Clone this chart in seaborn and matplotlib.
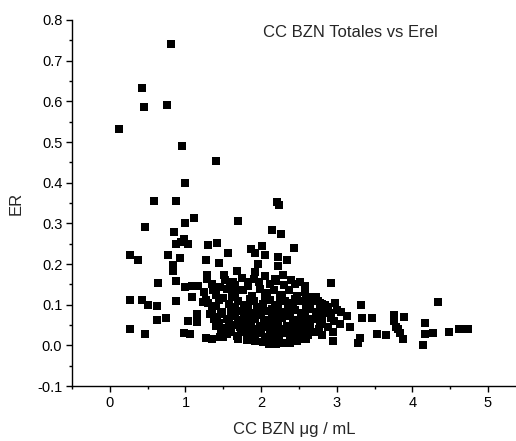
import matplotlib
matplotlib.use("Agg")
import matplotlib.pyplot as plt
from matplotlib.ticker import MultipleLocator, FormatStrFormatter
import seaborn as sns
import pandas as pd

# ---- data ----
cc_sparse = [0.81, 0.42, 0.45, 0.75, 0.115, 0.95, 1.40, 1.00, 0.59, 0.87, 2.21, 2.24,
             1.11, 0.47, 0.99, 1.69, 0.855, 2.14, 2.26,
             0.87, 0.98, 1.04, 0.94, 1.30, 1.42, 1.56, 1.87, 1.92, 2.01, 2.43,
             0.265, 0.366, 0.77, 0.93, 0.84, 0.84, 1.265, 1.44, 1.68, 1.51, 1.28, 1.28,
             2.05, 2.22, 2.34, 1.96, 2.22, 1.92, 2.29, 2.18, 2.40, 2.51, 2.93,
             0.64, 0.87, 0.99, 1.08, 1.17, 1.08, 1.37, 1.46, 1.59, 1.63, 1.83, 1.83, 1.90,
             0.265, 0.42, 0.51, 0.62, 0.87, 1.27, 1.15, 1.15, 1.04, 0.62, 0.74, 1.32, 1.38, 1.23,
             0.265, 0.46, 0.98, 1.06, 1.265, 1.35, 1.46, 1.49, 1.81,
             2.725, 4.335, 3.32, 2.62, 2.80, 3.00, 3.14, 3.33, 3.46, 3.76, 3.89, 3.76, 4.167,
             3.18, 3.04, 2.80, 3.79, 3.81, 3.53, 3.65, 3.84, 3.87, 4.167, 4.27, 4.48, 4.62,
             4.69, 4.74, 4.145, 3.31, 3.28, 2.95, 2.80, 2.60, 2.38, 2.12, 2.10, 2.95, 2.96,
             2.70, 2.78, 2.88, 2.90]
er_sparse = [0.740, 0.632, 0.586, 0.591, 0.532, 0.489, 0.453, 0.399, 0.354, 0.355, 0.352, 0.346,
             0.314, 0.292, 0.300, 0.305, 0.278, 0.284, 0.273,
             0.250, 0.262, 0.250, 0.254, 0.246, 0.251, 0.228, 0.237, 0.227, 0.244, 0.239,
             0.223, 0.211, 0.221, 0.215, 0.197, 0.183, 0.209, 0.202, 0.183, 0.174, 0.172, 0.163,
             0.221, 0.217, 0.211, 0.201, 0.194, 0.180, 0.174, 0.164, 0.160, 0.156, 0.153,
             0.153, 0.158, 0.143, 0.147, 0.147, 0.120, 0.135, 0.143, 0.142, 0.156, 0.156, 0.145, 0.164,
             0.111, 0.111, 0.100, 0.096, 0.109, 0.111, 0.078, 0.057, 0.059, 0.063, 0.067, 0.078, 0.065, 0.106,
             0.039, 0.027, 0.030, 0.029, 0.019, 0.016, 0.020, 0.020, 0.012,
             0.119, 0.107, 0.099, 0.094, 0.102, 0.086, 0.072, 0.066, 0.067, 0.074, 0.070, 0.061, 0.056,
             0.045, 0.053, 0.052, 0.045, 0.039, 0.029, 0.026, 0.030, 0.015, 0.029, 0.030, 0.034, 0.040,
             0.040, 0.040, 0.001, 0.019, 0.006, 0.011, 0.025, 0.016, 0.006, 0.004, 0.004, 0.033, 0.060,
             0.112, 0.105, 0.095, 0.080]

cc_cluster = [1.35, 1.52, 1.66, 1.75, 1.97, 2.05, 2.12, 2.20, 2.30, 2.45, 2.58,
              1.24, 1.40, 1.55, 1.65, 1.76, 1.88, 1.98, 2.08, 2.17, 2.27, 2.37, 2.47, 2.58, 2.66,
              1.30, 1.45, 1.57, 1.70, 1.80, 1.90, 2.02, 2.12, 2.22, 2.32, 2.42, 2.52, 2.64, 2.75, 2.85, 2.98,
              1.35, 1.48, 1.60, 1.70, 1.78, 1.87, 1.95, 2.05, 2.15, 2.25, 2.35, 2.45, 2.55, 2.65, 2.72, 2.85, 3.05,
              1.42, 1.55, 1.65, 1.74, 1.83, 1.92, 2.00, 2.10, 2.18, 2.28, 2.38, 2.48, 2.58, 2.68, 2.80, 2.92,
              1.40, 1.52, 1.62, 1.72, 1.82, 1.90, 1.98, 2.08, 2.16, 2.26, 2.34, 2.44, 2.54, 2.65, 2.76, 2.88,
              1.55, 1.68, 1.78, 1.88, 1.96, 2.05, 2.14, 2.24, 2.32, 2.42, 2.52, 2.62, 2.72,
              1.92, 2.02, 2.18, 2.28, 2.48, 2.20,
              1.50, 1.62, 1.85, 2.05, 2.25, 2.45, 2.60,
              1.40, 1.65, 1.83, 2.00, 2.18, 2.40, 2.60, 2.78,
              1.47, 1.60, 1.78, 1.96, 2.14, 2.33, 2.53, 2.75,
              1.45, 1.58, 1.69, 1.86, 2.04, 2.22, 2.42, 2.62, 2.78,
              1.47, 1.60, 1.73, 1.85, 2.00, 2.12, 2.20, 2.38, 2.48, 2.60,
              1.70, 1.85, 2.12, 2.38, 2.55]
er_cluster = [0.152, 0.160, 0.148, 0.166, 0.155, 0.170, 0.150, 0.158, 0.148, 0.152, 0.145,
              0.132, 0.125, 0.138, 0.128, 0.135, 0.122, 0.138, 0.128, 0.135, 0.124, 0.136, 0.122, 0.130, 0.120,
              0.104, 0.112, 0.102, 0.110, 0.100, 0.108, 0.102, 0.112, 0.100, 0.108, 0.103, 0.110, 0.100, 0.108, 0.100, 0.104,
              0.088, 0.082, 0.092, 0.084, 0.090, 0.080, 0.092, 0.085, 0.090, 0.082, 0.092, 0.086, 0.080, 0.090, 0.082, 0.086, 0.082,
              0.070, 0.064, 0.072, 0.062, 0.070, 0.065, 0.074, 0.062, 0.070, 0.066, 0.072, 0.062, 0.070, 0.064, 0.072, 0.066,
              0.048, 0.042, 0.050, 0.044, 0.052, 0.040, 0.048, 0.044, 0.052, 0.040, 0.048, 0.042, 0.050, 0.044, 0.040, 0.046,
              0.028, 0.024, 0.032, 0.022, 0.030, 0.020, 0.028, 0.022, 0.030, 0.020, 0.030, 0.026, 0.034,
              0.010, 0.008, 0.012, 0.006, 0.010, 0.003,
              0.116, 0.118, 0.115, 0.120, 0.116, 0.114, 0.112,
              0.096, 0.094, 0.097, 0.095, 0.096, 0.095, 0.094, 0.092,
              0.076, 0.077, 0.078, 0.076, 0.079, 0.077, 0.076, 0.075,
              0.056, 0.055, 0.057, 0.058, 0.056, 0.057, 0.056, 0.055, 0.054,
              0.036, 0.034, 0.037, 0.035, 0.036, 0.038, 0.035, 0.036, 0.034, 0.035,
              0.016, 0.014, 0.017, 0.015, 0.016]

title_text = "CC BZN Totales vs Erel"
x_label = "CC BZN \u03bcg / mL"
y_label = "ER"

df = pd.DataFrame({"cc": cc_sparse + cc_cluster, "er": er_sparse + er_cluster})

# ---- style ----
sns.set_style("ticks")
plt.rcParams["font.family"] = ["Liberation Sans", "DejaVu Sans"]

fig = plt.figure(figsize=(5.16, 4.41), dpi=100)
ax = fig.add_axes([72 / 516, 55 / 441, 444 / 516, 366 / 441])

sns.scatterplot(data=df, x="cc", y="er", marker="s", color="black", s=34,
                linewidth=0, ax=ax, legend=False)

ax.set_xlim(-0.5, 5.37)
ax.set_ylim(-0.1, 0.8)
ax.xaxis.set_major_locator(MultipleLocator(1))
ax.xaxis.set_minor_locator(MultipleLocator(0.5))
ax.yaxis.set_major_locator(MultipleLocator(0.1))
ax.yaxis.set_minor_locator(MultipleLocator(0.05))
ax.yaxis.set_major_formatter(FormatStrFormatter("%.1f"))

for s in ["top", "right"]:
    ax.spines[s].set_visible(False)
for s in ["left", "bottom"]:
    ax.spines[s].set_linewidth(1.0)
    ax.spines[s].set_color("black")

ax.tick_params(which="major", direction="out", length=4, width=1.0, labelsize=10.5, pad=3, colors="black")
ax.tick_params(which="minor", direction="out", length=2.5, width=1.0, colors="black")

ax.set_xlabel(x_label, fontsize=12, labelpad=9)
ax.set_ylabel(y_label, fontsize=12, labelpad=10)
ax.text(0.43, 0.967, title_text, transform=ax.transAxes, fontsize=12,
        ha="left", va="center")

fig.savefig("out.png", dpi=100)
